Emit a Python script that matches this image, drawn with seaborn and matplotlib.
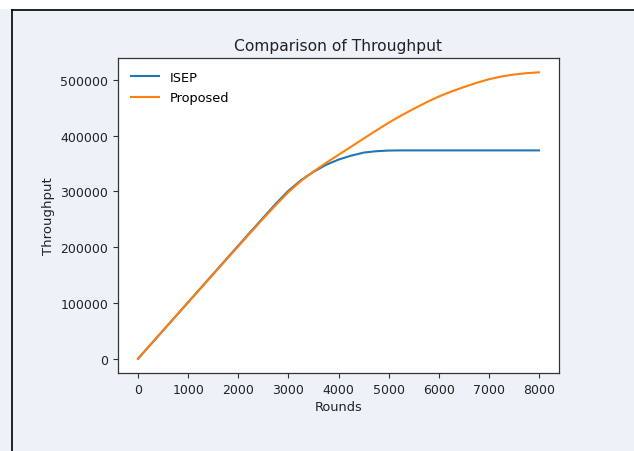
import matplotlib
matplotlib.use("Agg")
import matplotlib.pyplot as plt
from matplotlib.lines import Line2D
from matplotlib.patches import Rectangle
import pandas as pd
import seaborn as sns

rounds = [0, 250, 500, 750, 1000, 1250, 1500, 1750, 2000, 2250, 2500, 2750,
          3000, 3250, 3500, 3750, 4000, 4250, 4500, 4750, 5000, 5250, 5500,
          5750, 6000, 6250, 6500, 6750, 7000, 7250, 7500, 7750, 8000]
isep = [0, 25300, 50600, 76000, 101300, 126700, 152000, 177400, 202700,
        228000, 253000, 278000, 301000, 320000, 335000, 347500, 357000,
        364000, 369500, 372000, 373200, 373500, 373500, 373500, 373500,
        373500, 373500, 373500, 373500, 373500, 373500, 373500, 373500]
proposed = [0, 25200, 50400, 75600, 100800, 126000, 151200, 176300, 201500,
            226500, 251300, 275500, 298500, 318500, 335500, 351000, 365500,
            380000, 394500, 409000, 423000, 436000, 448000, 459500, 470000,
            479000, 487000, 494500, 501000, 506000, 509500, 512000, 513500]
series_names = ["ISEP", "Proposed"]
title = "Comparison of Throughput"
xlabel = "Rounds"
ylabel = "Throughput"

df = pd.DataFrame({
    "Rounds": rounds * 2,
    "Throughput": isep + proposed,
    "Series": [series_names[0]] * len(rounds) + [series_names[1]] * len(rounds),
})

plt.rcParams["font.family"] = ["DejaVu Sans"]
fig = plt.figure(figsize=(6.34, 4.52), dpi=100)
fig.patch.set_facecolor("#EDF1F8")

# screenshot frame
fig.add_artist(Rectangle((0, 1 - 10 / 452), 1, 10 / 452, transform=fig.transFigure,
                         facecolor="white", edgecolor="none", zorder=0))
fig.add_artist(Line2D([12 / 634, 1], [1 - 10.5 / 452, 1 - 10.5 / 452],
                      transform=fig.transFigure, color="black", lw=1.2))
fig.add_artist(Line2D([12 / 634, 12 / 634], [0, 1 - 10.5 / 452],
                      transform=fig.transFigure, color="black", lw=1.2))

ax = fig.add_axes([118 / 634, 78 / 452, 441 / 634, 315 / 452])
ax.set_facecolor("white")
sns.lineplot(data=df, x="Rounds", y="Throughput", hue="Series",
             palette=["#1f77b4", "#ff7f0e"], linewidth=1.5, ax=ax)

ax.set_xticks([0, 1000, 2000, 3000, 4000, 5000, 6000, 7000, 8000])
ax.set_yticks([0, 100000, 200000, 300000, 400000, 500000])
ax.tick_params(labelsize=9, length=3.5, width=0.8, colors="#333333", labelcolor="#222222")
ax.set_xlabel(xlabel, fontsize=9.3, color="#222222", labelpad=3)
ax.set_ylabel(ylabel, fontsize=9.5, color="#222222", labelpad=4)
ax.set_title(title, fontsize=11.2, color="#222222", pad=6)
for s in ax.spines.values():
    s.set_color("#333333")
    s.set_linewidth(0.9)
leg = ax.legend(loc="upper left", frameon=False, fontsize=9.3, handlelength=2.2,
                labelspacing=0.55, borderaxespad=0.6)

fig.savefig("out.png", dpi=100, facecolor=fig.get_facecolor())
